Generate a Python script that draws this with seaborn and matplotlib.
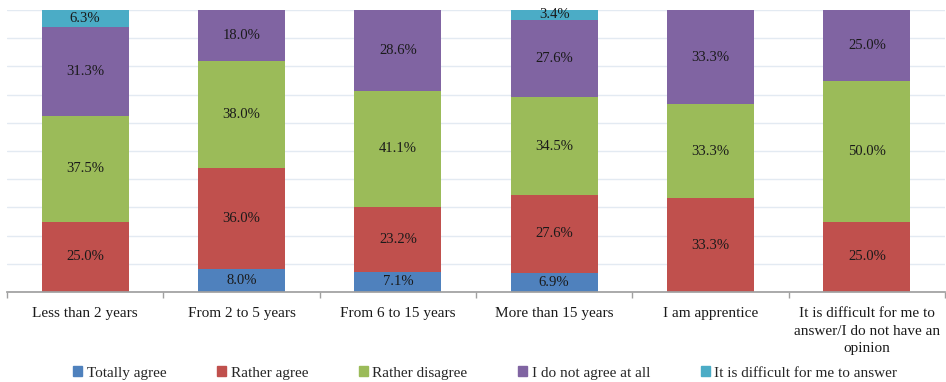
import numpy as np
import pandas as pd
import matplotlib
matplotlib.use("Agg")
import matplotlib.pyplot as plt
import seaborn as sns
from matplotlib.patches import Patch

categorias = ["Less than 2 years", "From 2 to 5 years", "From 6 to 15 years",
              "More than 15 years", "I am apprentice",
              "It is difficult for me to\nanswer/I do not have an\nopinion"]
series = ["Totally agree", "Rather agree", "Rather disagree",
          "I do not agree at all", "It is difficult for me to answer"]
totally_agree = [0.0, 8.0, 7.1, 6.9, 0.0, 0.0]
rather_agree = [25.0, 36.0, 23.2, 27.6, 33.3, 25.0]
rather_disagree = [37.5, 38.0, 41.1, 34.5, 33.3, 50.0]
not_agree = [31.3, 18.0, 28.6, 27.6, 33.3, 25.0]
difficult = [6.3, 0.0, 0.0, 3.4, 0.0, 0.0]
cores = ["#4F81BD", "#C0504D", "#9BBB59", "#8064A2", "#4BACC6"]

sns.set_theme(style="white")
plt.rcParams['font.family'] = ['Liberation Serif', 'DejaVu Serif']

valores = np.array([totally_agree, rather_agree, rather_disagree, not_agree, difficult])
acumulado = np.cumsum(valores, axis=0)

fig = plt.figure(figsize=(9.46, 3.82), dpi=100)
ax = fig.add_axes([7 / 946, 1 - 292 / 382, 938 / 946, 282 / 382])

# barras empilhadas: desenha do topo para a base, sobrepondo
for i in range(len(series) - 1, -1, -1):
    df = pd.DataFrame({"cat": categorias, "val": acumulado[i]})
    sns.barplot(data=df, x="cat", y="val", color=cores[i], saturation=1,
                width=0.555, linewidth=0, ax=ax, zorder=2)

# rótulos dos segmentos
for i in range(len(series)):
    for j in range(len(categorias)):
        v = valores[i, j]
        if v <= 0:
            continue
        ax.text(j, acumulado[i, j] - v / 2, f"{v:.1f}%", ha="center", va="center",
                fontsize=10.5, color="#1a1a1a", zorder=3)

ax.set_ylim(0, 100)
ax.set_xlim(-0.5, 5.5)
ax.set_yticks(np.arange(0, 101, 10))
ax.yaxis.grid(True, color="#E3EAF2", linewidth=1, zorder=0)
ax.set_axisbelow(True)
ax.tick_params(axis="y", left=False, labelleft=False)
ax.set_xticks(range(len(categorias)))
ax.set_xticklabels(categorias, fontsize=11, color="#1a1a1a", linespacing=1.45)
ax.tick_params(axis="x", bottom=False, pad=5)
ax.set_xticks(np.arange(-0.5, 6.0, 1.0), minor=True)
ax.tick_params(axis="x", which="minor", bottom=True, length=4, color="#A0A0A0", width=1)
ax.set_xlabel("")
ax.set_ylabel("")
for s in ["top", "right", "left"]:
    ax.spines[s].set_visible(False)
ax.spines["bottom"].set_color("#A0A0A0")

handles = [Patch(color=c, label=s) for c, s in zip(cores, series)]
fig.legend(handles=handles, loc="center", bbox_to_anchor=(0.513, 1 - 373 / 382), ncol=5,
           frameon=False, fontsize=11, handlelength=0.6, handleheight=0.6,
           handletextpad=0.3, columnspacing=3.3)

fig.savefig("out.png", dpi=100)
